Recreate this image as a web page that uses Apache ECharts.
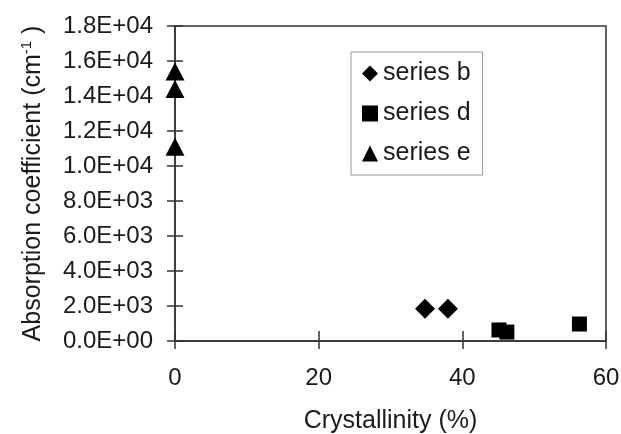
<!DOCTYPE html>
<html>
<head>
<meta charset="utf-8">
<script src="https://cdn.jsdelivr.net/npm/echarts@6/dist/echarts.min.js"></script>
<style>
  html, body { margin: 0; padding: 0; background: #fff; }
  #chart { width: 621px; height: 434px; }
</style>
</head>
<body>
<div id="chart"></div>
<script>
// Values
const seriesB = [[34.8, 1850], [38.0, 1850]];
const seriesD = [[45.1, 630], [46.2, 510], [56.3, 970]];
const seriesE = [[0, 15400], [0, 14400], [0, 11100]];

const xTicks = ['0', '20', '40', '60'];
const yTickLabels = ['0.0E+00', '2.0E+03', '4.0E+03', '6.0E+03', '8.0E+03',
    '1.0E+04', '1.2E+04', '1.4E+04', '1.6E+04', '1.8E+04'];

const chart = echarts.init(document.getElementById('chart'));
const ink = '#1a1a1a';
const font = 'Liberation Sans, Arial, sans-serif';
const tickStyle = { color: '#333', width: 1.5 };
const markStyle = { color: '#000', opacity: 1 };
const box = { left: 175, right: 15, top: 26, bottom: 93 };

chart.setOption({
    animation: false,
    grid: [
        Object.assign({ show: true, borderColor: '#333', borderWidth: 1.5, outerBoundsMode: 'none', containLabel: false }, box),
        // twin grid on the same box, only for the inward half of the crossing ticks
        Object.assign({ show: false, outerBoundsMode: 'none', containLabel: false }, box)
    ],
    legend: {
        orient: 'vertical',
        left: 351, top: 52,
        padding: [9, 12, 9, 11],
        itemGap: 15,
        itemWidth: 16, itemHeight: 16,
        borderColor: '#999', borderWidth: 1,
        textStyle: { fontSize: 25, color: ink, fontFamily: font },
        data: [
            { name: 'series b', icon: 'diamond' },
            { name: 'series d', icon: 'rect' },
            { name: 'series e', icon: 'triangle' }
        ]
    },
    xAxis: [
        {
            type: 'value', min: 0, max: 60, interval: 20,
            splitLine: { show: false },
            axisLine: { onZero: false, lineStyle: tickStyle },
            axisTick: { length: 8, lineStyle: tickStyle },
            name: 'Crystallinity (%)',
            nameLocation: 'middle', nameGap: 68,
            nameTextStyle: { fontSize: 25, color: ink, fontFamily: font },
            axisLabel: {
                margin: 25, fontSize: 24, color: ink, fontFamily: font,
                formatter: v => xTicks[v / 20]
            }
        },
        {
            gridIndex: 1,
            type: 'value', min: 0, max: 60, interval: 20,
            splitLine: { show: false },
            axisLine: { show: false, onZero: false },
            axisLabel: { show: false },
            axisTick: { show: true, inside: true, length: 10, lineStyle: tickStyle }
        }
    ],
    yAxis: [
        {
            type: 'value', min: 0, max: 18000, interval: 2000,
            splitLine: { show: false },
            axisLine: { onZero: false, lineStyle: tickStyle },
            axisTick: { length: 8, lineStyle: tickStyle },
            name: 'Absorption coefficient (cm{sup|-1}{gap| })',
            nameLocation: 'middle', nameRotate: 90, nameGap: 127,
            nameTextStyle: {
                fontSize: 25, color: ink, fontFamily: font,
                rich: {
                    sup: { fontSize: 15, color: ink, fontFamily: font, verticalAlign: 'top', padding: [0, 0, 14, 0] },
                    gap: { fontSize: 25, fontFamily: font }
                }
            },
            axisLabel: {
                margin: 22, fontSize: 24, color: ink, fontFamily: font,
                formatter: v => yTickLabels[Math.round(v / 2000)]
            }
        },
        {
            gridIndex: 1,
            type: 'value', min: 0, max: 18000, interval: 2000,
            splitLine: { show: false },
            axisLine: { show: false, onZero: false },
            axisLabel: { show: false },
            axisTick: { show: true, inside: true, length: 8, lineStyle: tickStyle }
        }
    ],
    series: [
        {
            name: 'series b', type: 'scatter', data: seriesB,
            symbol: 'diamond', symbolSize: [20, 20],
            itemStyle: markStyle
        },
        {
            name: 'series d', type: 'scatter', data: seriesD,
            symbol: 'rect', symbolSize: 15,
            itemStyle: markStyle
        },
        {
            name: 'series e', type: 'scatter', data: seriesE,
            symbol: 'triangle', symbolSize: [19, 18],
            itemStyle: markStyle
        },
        {
            // empty series so the twin grid's axes get drawn
            name: 'ticks', type: 'scatter', data: [],
            xAxisIndex: 1, yAxisIndex: 1
        }
    ]
});
</script>
</body>
</html>
